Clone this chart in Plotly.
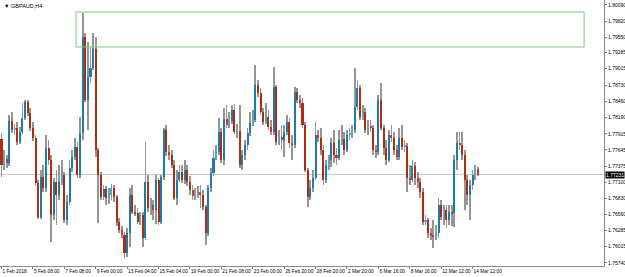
import plotly.graph_objects as go

symbol_title = "\u25bc GBPAUD,H4"

opens = [1.77830,1.77392,1.77493,1.77425,1.78134,1.77982,1.78016,1.77780,1.77948,1.78184,
1.78454,1.78268,1.78016,1.77847,1.77088,1.76515,1.77190,1.77004,1.77679,1.77476,
1.76549,1.77105,1.76887,1.77105,1.77224,1.76465,1.76768,1.77341,1.77527,1.77696,
1.77224,1.77931,1.79550,1.78488,1.78876,1.79027,1.79348,1.77645,1.77224,1.76853,
1.76988,1.76836,1.76887,1.77004,1.76853,1.76431,1.76296,1.76212,1.75908,1.76245,
1.76887,1.76599,1.76582,1.76431,1.76549,1.76161,1.77105,1.76667,1.76718,1.76633,
1.77139,1.76431,1.77190,1.77982,1.77611,1.77561,1.77392,1.76836,1.77139,1.77274,
1.77139,1.77308,1.77105,1.76971,1.76870,1.76904,1.76937,1.76887,1.76684,1.76245,
1.77004,1.77257,1.77510,1.77611,1.77948,1.77476,1.78167,1.78067,1.78134,1.78319,
1.77948,1.77965,1.77392,1.77561,1.77730,1.77931,1.78100,1.78151,1.78741,1.78606,
1.78285,1.78117,1.78201,1.78033,1.77948,1.78707,1.77780,1.77864,1.77814,1.77948,
1.78117,1.77763,1.77730,1.78623,1.78488,1.78437,1.78067,1.77308,1.76853,1.77004,
1.77173,1.77898,1.77847,1.77645,1.77139,1.77392,1.77476,1.77763,1.77561,1.77510,
1.77814,1.77830,1.77645,1.77898,1.77931,1.77982,1.78370,1.78690,1.78201,1.78285,
1.77982,1.78033,1.78016,1.77645,1.77611,1.78488,1.78016,1.77679,1.77476,1.77898,
1.77847,1.77645,1.77527,1.77847,1.77696,1.77713,1.77173,1.77139,1.77375,1.77173,
1.77105,1.76937,1.76431,1.76465,1.76245,1.76195,1.76178,1.76245,1.76718,1.76515,
1.76633,1.76465,1.76599,1.76582,1.77476,1.77763,1.77730,1.77561,1.77139,1.76887,
1.77055,1.77224,1.77325]

highs = [1.77931,1.77645,1.77561,1.78235,1.78285,1.78084,1.78117,1.78033,1.78437,1.78488,
1.78488,1.78353,1.78117,1.77898,1.77139,1.77308,1.77392,1.77898,1.77814,1.77561,
1.77173,1.77308,1.77392,1.77476,1.77274,1.76887,1.77476,1.77645,1.77847,1.77780,
1.78201,1.79954,1.79617,1.79466,1.79382,1.79617,1.79550,1.77679,1.77274,1.77055,
1.77038,1.77004,1.77072,1.77055,1.76887,1.76498,1.76364,1.76262,1.76330,1.77004,
1.77055,1.76718,1.76667,1.76599,1.76599,1.77780,1.77224,1.76836,1.76802,1.77224,
1.77173,1.77224,1.78016,1.78067,1.77730,1.77645,1.77476,1.77308,1.77392,1.77392,
1.77476,1.77392,1.77207,1.77055,1.77004,1.77038,1.77055,1.76971,1.76718,1.77055,
1.77341,1.77645,1.77730,1.78184,1.78016,1.78353,1.78404,1.78285,1.78404,1.78421,
1.78084,1.78404,1.77645,1.77814,1.78016,1.78285,1.78319,1.79078,1.78825,1.78690,
1.78353,1.78437,1.78319,1.78151,1.79044,1.78741,1.77982,1.78067,1.78067,1.78235,
1.78184,1.77898,1.78707,1.78690,1.78572,1.78522,1.78117,1.77341,1.77139,1.77308,
1.78117,1.77982,1.78016,1.77730,1.77476,1.77561,1.77847,1.77982,1.77679,1.77982,
1.78067,1.77948,1.77982,1.78016,1.78067,1.79027,1.78825,1.78741,1.78404,1.78353,
1.78151,1.78151,1.78067,1.77730,1.78572,1.78774,1.78067,1.77814,1.77982,1.78067,
1.77948,1.77730,1.78016,1.78067,1.77814,1.77763,1.77392,1.77476,1.77442,1.77274,
1.77173,1.77004,1.76549,1.76498,1.76330,1.76465,1.76381,1.76836,1.76802,1.76718,
1.76718,1.76718,1.76718,1.77561,1.77948,1.77948,1.77948,1.77645,1.77224,1.77139,
1.77308,1.77392,1.77358]

lows = [1.77190,1.77308,1.77341,1.77375,1.77931,1.77898,1.77730,1.77747,1.77915,1.78151,
1.78218,1.77965,1.77797,1.77038,1.76481,1.76481,1.76937,1.76937,1.77392,1.76094,
1.76465,1.76381,1.76802,1.77055,1.76414,1.76381,1.76718,1.77274,1.77476,1.77173,
1.77173,1.77814,1.78454,1.77982,1.78774,1.78994,1.77527,1.76414,1.76802,1.76802,
1.76718,1.76735,1.76802,1.76768,1.76364,1.76245,1.76161,1.75824,1.75841,1.76010,
1.76566,1.76532,1.76398,1.76381,1.76010,1.76128,1.76599,1.76549,1.76465,1.76398,
1.76381,1.76398,1.77139,1.77544,1.77476,1.77341,1.76802,1.76718,1.77105,1.77088,
1.77072,1.77038,1.76887,1.76802,1.76802,1.76836,1.76667,1.76633,1.76044,1.76195,
1.76937,1.77207,1.77476,1.77561,1.77425,1.77392,1.78016,1.78016,1.78084,1.77915,
1.77847,1.77341,1.77308,1.77476,1.77645,1.77881,1.78050,1.78117,1.78539,1.78235,
1.78067,1.78084,1.77982,1.77898,1.77898,1.77730,1.77730,1.77645,1.77527,1.77898,
1.77679,1.77476,1.77679,1.78437,1.78353,1.78016,1.77274,1.76684,1.76802,1.76937,
1.77139,1.77780,1.77561,1.77055,1.77088,1.77308,1.77358,1.77425,1.77392,1.77476,
1.77730,1.77561,1.77611,1.77814,1.77847,1.77931,1.78319,1.78151,1.78151,1.77931,
1.77898,1.77948,1.77561,1.77510,1.77561,1.77982,1.77561,1.77392,1.77442,1.77780,
1.77561,1.77476,1.77476,1.77645,1.77611,1.76937,1.77055,1.77105,1.77055,1.77004,
1.76836,1.76381,1.76381,1.76161,1.76128,1.75993,1.76128,1.76161,1.76465,1.76381,
1.76330,1.76381,1.76364,1.76347,1.77308,1.77645,1.77476,1.76633,1.76718,1.76465,
1.76971,1.77139,1.77207]

closes = [1.77392,1.77493,1.77425,1.78134,1.77982,1.78016,1.77780,1.77948,1.78184,1.78454,
1.78268,1.78016,1.77847,1.77088,1.76515,1.77190,1.77004,1.77679,1.77476,1.76549,
1.77105,1.76887,1.77105,1.77224,1.76465,1.76768,1.77341,1.77527,1.77696,1.77224,
1.77931,1.79550,1.78488,1.78876,1.79027,1.79348,1.77645,1.77224,1.76853,1.76988,
1.76836,1.76887,1.77004,1.76853,1.76431,1.76296,1.76212,1.75908,1.76245,1.76887,
1.76599,1.76582,1.76431,1.76549,1.76161,1.77105,1.76667,1.76718,1.76633,1.77139,
1.76431,1.77190,1.77982,1.77611,1.77561,1.77392,1.76836,1.77139,1.77274,1.77139,
1.77308,1.77105,1.76971,1.76870,1.76904,1.76937,1.76887,1.76684,1.76245,1.77004,
1.77257,1.77510,1.77611,1.77948,1.77476,1.78167,1.78067,1.78134,1.78319,1.77948,
1.77965,1.77392,1.77561,1.77730,1.77931,1.78100,1.78151,1.78741,1.78606,1.78285,
1.78117,1.78201,1.78033,1.77948,1.78707,1.77780,1.77864,1.77814,1.77948,1.78117,
1.77763,1.77730,1.78623,1.78488,1.78437,1.78067,1.77308,1.76853,1.77004,1.77173,
1.77898,1.77847,1.77645,1.77139,1.77392,1.77476,1.77763,1.77561,1.77510,1.77814,
1.77830,1.77645,1.77898,1.77931,1.77982,1.78370,1.78690,1.78201,1.78285,1.77982,
1.78033,1.78016,1.77645,1.77611,1.78488,1.78016,1.77679,1.77476,1.77898,1.77847,
1.77645,1.77527,1.77847,1.77696,1.77713,1.77173,1.77139,1.77375,1.77173,1.77105,
1.76937,1.76431,1.76465,1.76245,1.76195,1.76178,1.76245,1.76718,1.76515,1.76633,
1.76465,1.76599,1.76582,1.77476,1.77763,1.77730,1.77561,1.77139,1.76887,1.77055,
1.77224,1.77325,1.77231]

date_labels = ["1 Feb 2018", "5 Feb 08:00", "7 Feb 08:00", "9 Feb 00:00", "13 Feb 04:00",
               "15 Feb 04:00", "19 Feb 00:00", "21 Feb 08:00", "23 Feb 00:00", "26 Feb 20:00",
               "28 Feb 20:00", "2 Mar 20:00", "6 Mar 16:00", "8 Mar 16:00", "12 Mar 12:00",
               "14 Mar 12:00"]
bars_per_label = 12

price_labels = [1.80090, 1.79820, 1.79550, 1.79285, 1.79015, 1.78730, 1.78460, 1.78190,
                1.77915, 1.77645, 1.77375, 1.77100, 1.76830, 1.76560, 1.76285, 1.76015, 1.75740]

current_price = 1.77231

zone_top = 1.79972
zone_bottom = 1.79382
zone_start_bar = 28.5
zone_end_bar = 222.6

y_min, y_max = 1.75689, 1.80174
x_min, x_max = -0.57, 230.2

FONT = "Liberation Sans"

n = len(closes)
idx = list(range(n))

body_base = [min(o, c) for o, c in zip(opens, closes)]
body_h = [max(abs(c - o), 0.00004) for o, c in zip(opens, closes)]
body_col = []
for o, c in zip(opens, closes):
    size = abs(c - o)
    if c >= o:
        body_col.append("#1a7cab" if size > 0.0012 else "#2fb0e6")
    else:
        body_col.append("#b02c0e" if size > 0.0012 else "#ee2a1c")

wick_base = lows
wick_h = [h - l for h, l in zip(highs, lows)]

fig = go.Figure()
fig.add_trace(go.Bar(x=idx, y=wick_h, base=wick_base, width=0.3,
                     marker=dict(color="#959595", line=dict(width=0)),
                     hoverinfo="skip"))
fig.add_trace(go.Bar(x=idx, y=body_h, base=body_base, width=0.78,
                     marker=dict(color=body_col, line=dict(width=0)),
                     hoverinfo="skip"))

fig.add_shape(type="line", xref="paper", x0=0, x1=1, y0=current_price, y1=current_price,
              line=dict(color="#c8c8c8", width=1), layer="below")
fig.add_shape(type="rect", x0=zone_start_bar, x1=zone_end_bar, y0=zone_bottom, y1=zone_top,
              line=dict(color="#80c880", width=1), fillcolor="rgba(0,0,0,0)", layer="above")

fig.add_annotation(xref="paper", yref="y", x=1, y=current_price, xanchor="left",
                   text=f"{current_price:.5f}", showarrow=False, bgcolor="#000000",
                   font=dict(color="#ffffff", size=5, family=FONT),
                   borderpad=0, xshift=1)
fig.add_annotation(xref="paper", yref="paper", x=0.004, y=0.995, xanchor="left", yanchor="top",
                   text=symbol_title, showarrow=False,
                   font=dict(color="#000000", size=5.5, family=FONT))

fig.update_layout(
    width=625, height=277,
    margin=dict(l=0, r=21, t=0, b=11, autoexpand=False),
    paper_bgcolor="#ffffff", plot_bgcolor="#ffffff",
    showlegend=False, barmode="overlay", bargap=0,
    xaxis=dict(range=[x_min, x_max], tickvals=[i * bars_per_label for i in range(len(date_labels))],
               ticktext=date_labels, ticks="outside", ticklen=2, tickcolor="#808080",
               ticklabelposition="outside right", tickangle=0, automargin=False,
               showgrid=False, zeroline=False, showline=True, linecolor="#8c8c8c", mirror=True,
               tickfont=dict(size=4.8, family=FONT, color="#000000")),
    yaxis=dict(range=[y_min, y_max], side="right", tickvals=price_labels, automargin=False,
               ticktext=[f"{p:.5f}" for p in price_labels], ticks="outside", ticklen=2,
               tickcolor="#808080", showgrid=False, zeroline=False, showline=True,
               linecolor="#8c8c8c", mirror=True,
               tickfont=dict(size=5, family=FONT, color="#000000")),
)

fig.write_html("out.html")
